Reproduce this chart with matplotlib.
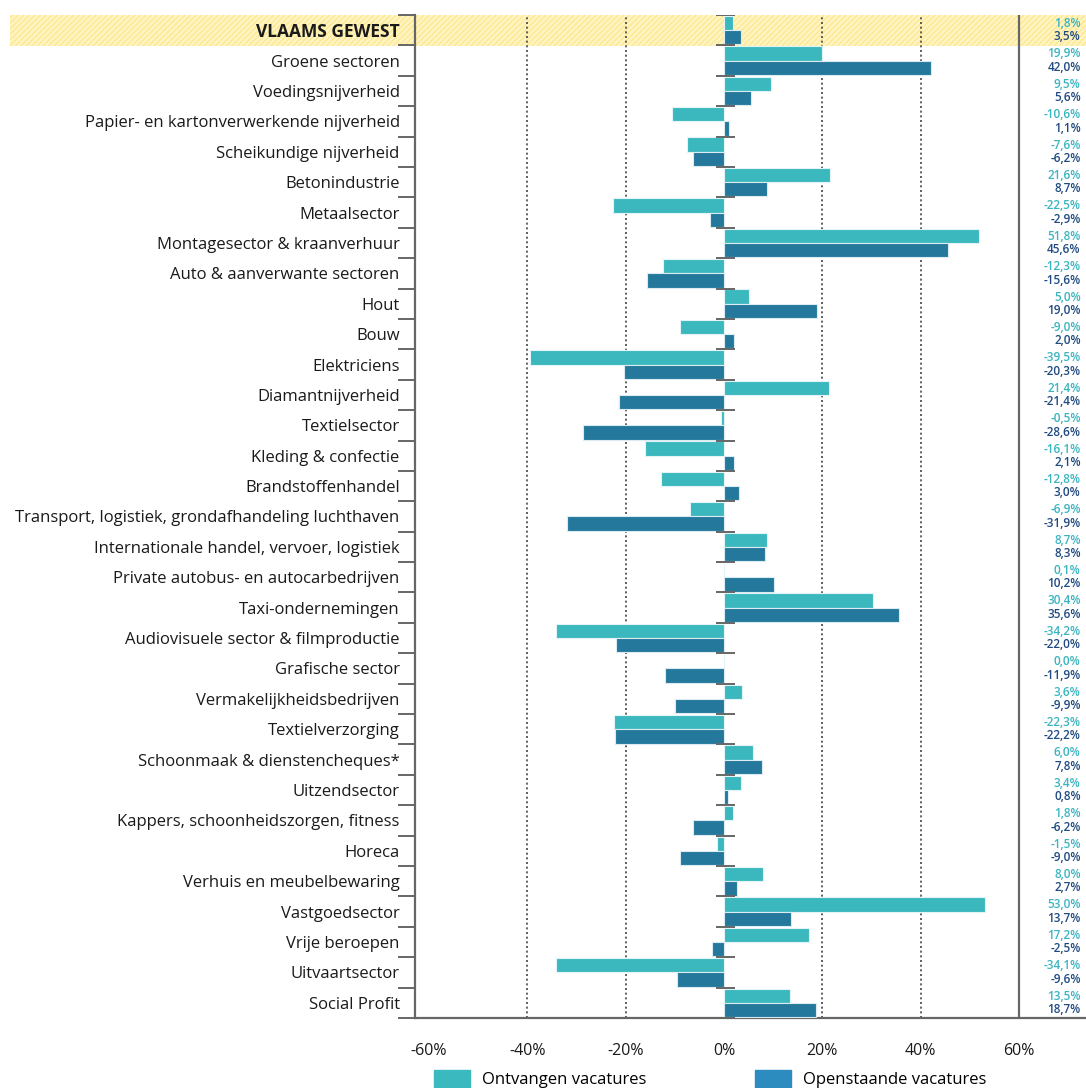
import numpy as np
import matplotlib.pyplot as plt
from matplotlib.patches import Rectangle, Patch
import matplotlib.transforms as mtransforms

plt.rcParams['font.family'] = ['Open Sans', 'DejaVu Sans']
plt.rcParams['hatch.linewidth'] = 0.6

# Sectors and year-on-year change (%)
sectors = [
    'VLAAMS GEWEST', 'Groene sectoren', 'Voedingsnijverheid',
    'Papier- en kartonverwerkende nijverheid', 'Scheikundige nijverheid',
    'Betonindustrie', 'Metaalsector', 'Montagesector & kraanverhuur',
    'Auto & aanverwante sectoren', 'Hout', 'Bouw', 'Elektriciens',
    'Diamantnijverheid', 'Textielsector', 'Kleding & confectie',
    'Brandstoffenhandel', 'Transport, logistiek, grondafhandeling luchthaven',
    'Internationale handel, vervoer, logistiek',
    'Private autobus- en autocarbedrijven', 'Taxi-ondernemingen',
    'Audiovisuele sector & filmproductie', 'Grafische sector',
    'Vermakelijkheidsbedrijven', 'Textielverzorging',
    'Schoonmaak & dienstencheques*', 'Uitzendsector',
    'Kappers, schoonheidszorgen, fitness', 'Horeca',
    'Verhuis en meubelbewaring', 'Vastgoedsector', 'Vrije beroepen',
    'Uitvaartsector', 'Social Profit',
]
ontvangen = [1.8, 19.9, 9.5, -10.6, -7.6, 21.6, -22.5, 51.8, -12.3, 5.0, -9.0,
             -39.5, 21.4, -0.5, -16.1, -12.8, -6.9, 8.7, 0.1, 30.4, -34.2, 0.0,
             3.6, -22.3, 6.0, 3.4, 1.8, -1.5, 8.0, 53.0, 17.2, -34.1, 13.5]
openstaand = [3.5, 42.0, 5.6, 1.1, -6.2, 8.7, -2.9, 45.6, -15.6, 19.0, 2.0,
              -20.3, -21.4, -28.6, 2.1, 3.0, -31.9, 8.3, 10.2, 35.6, -22.0,
              -11.9, -9.9, -22.2, 7.8, 0.8, -6.2, -9.0, 2.7, 13.7, -2.5,
              -9.6, 18.7]
xticks = [-60, -40, -20, 0, 20, 40, 60]

teal = '#3bb8bd'
blue = '#24789c'
teal_txt = '#3ab5c0'
blue_txt = '#1f4a80'

n = len(sectors)
y = np.arange(n)

fig = plt.figure(figsize=(10.86, 10.88), dpi=100)
ax = fig.add_axes([415 / 1086, 1 - 1018 / 1088, 671 / 1086, 1003 / 1088])

# highlighted band behind the regional total
band = Rectangle((10 / 1086, 1 - 46 / 1088), 1076 / 1086, 31 / 1088,
                 transform=fig.transFigure, facecolor='#fff4c0',
                 edgecolor='#fbe27a', hatch='//////', lw=0, zorder=-5)
fig.patches.append(band)

h = 0.47
ax.barh(y - h / 2, ontvangen, height=h, color=teal, edgecolor='#e2f4f6',
        linewidth=0.8, zorder=3)
ax.barh(y + h / 2, openstaand, height=h, color=blue, edgecolor='#dcebf2',
        linewidth=0.8, zorder=3)

ax.set_xlim(-62.8, 73.6)
ax.set_ylim(n - 0.5, -0.5)
ax.patch.set_alpha(0)

# dotted grid and solid frame line at 60%
for gx in [-40, -20, 20, 40]:
    ax.axvline(gx, color='#444444', ls=(0, (1.2, 1.6)), lw=1.2, zorder=1)
ax.axvline(60, color='#666666', lw=1.6, zorder=2)

# category separators crossing the zero line
bounds = np.arange(n + 1) - 0.5
ax.hlines(bounds, -1.6, 2.2, color='#666666', lw=1.4, zorder=4)

ax.set_yticks(y)
ax.set_yticklabels(sectors, fontsize=12, color='#1a1a1a')
ax.get_yticklabels()[0].set_fontweight('bold')
ax.get_yticklabels()[0].set_fontsize(12.5)
ax.tick_params(axis='y', length=0, pad=11)
ax.set_yticks(bounds, minor=True)
ax.tick_params(axis='y', which='minor', length=12, width=1.4,
               color='#666666', direction='out')

ax.set_xticks(xticks)
ax.set_xticklabels([f'{t}%' for t in xticks], fontsize=11.5, color='#1a1a1a')
ax.tick_params(axis='x', length=0, pad=18)

for side in ['top', 'right']:
    ax.spines[side].set_visible(False)
for side in ['left', 'bottom']:
    ax.spines[side].set_color('#666666')
    ax.spines[side].set_linewidth(1.6)

# value column to the right
trans = mtransforms.blended_transform_factory(ax.transAxes, ax.transData)
for i in range(n):
    a = f'{ontvangen[i]:.1f}%'.replace('.', ',')
    b = f'{openstaand[i]:.1f}%'.replace('.', ',')
    ax.text(0.992, i - 0.22, a, transform=trans, ha='right', va='center',
            fontsize=8.5, color=teal_txt, fontweight='semibold')
    ax.text(0.992, i + 0.22, b, transform=trans, ha='right', va='center',
            fontsize=8.5, color=blue_txt, fontweight='semibold')

handles = [Patch(color='#3ab9be', label='Ontvangen vacatures'),
           Patch(color='#2c8cbf', label='Openstaande vacatures')]
fig.legend(handles=handles, loc='upper left',
           bbox_to_anchor=(422 / 1086, 1 - 1058 / 1088), ncol=2,
           frameon=False, fontsize=12, handlelength=2.2, handleheight=1.2,
           columnspacing=6.5, handletextpad=0.7, borderpad=0.2)

fig.savefig('out.png', dpi=100)
